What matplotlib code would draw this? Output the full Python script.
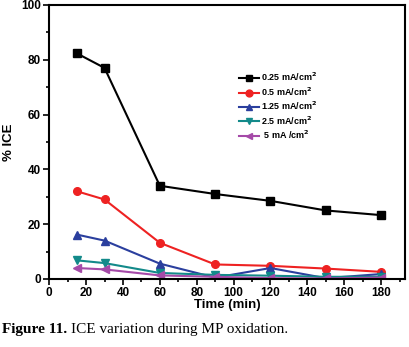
import matplotlib
matplotlib.use("Agg")
import matplotlib.pyplot as plt
from matplotlib.ticker import MultipleLocator

time_min = [15, 30, 60, 90, 120, 150, 180]
labels = ["0.25 mA/cm$^2$", "0.5 mA/cm$^2$", "1.25 mA/cm$^2$", "2.5 mA/cm$^2$", " 5 mA /cm$^2$"]
ice_025 = [82.3, 77.0, 34.0, 31.0, 28.5, 25.0, 23.3]
ice_05 = [32.0, 29.0, 13.2, 5.3, 4.8, 3.8, 2.6]
ice_125 = [16.2, 14.0, 5.6, 0.5, 4.0, 0.3, 1.8]
ice_25 = [6.8, 5.8, 2.2, 1.5, 1.2, 0.8, 0.8]
ice_5 = [4.0, 3.5, 1.3, 0.8, 0.3, 0.2, 0.5]

series = [ice_025, ice_05, ice_125, ice_25, ice_5]
colors = ["black", "#ee2222", "#2b3f9e", "#138a8a", "#a54aa8"]
markers = ["s", "o", "^", "v", "<"]

plt.rcParams["font.family"] = "Liberation Sans"
plt.rcParams["font.weight"] = "bold"
plt.rcParams["mathtext.default"] = "bf"

fig = plt.figure(figsize=(4.1, 3.47), dpi=100)
ax = fig.add_axes([0.12, 0.196, 0.868, 0.79])

for vals, col, mk, lab in zip(series, colors, markers, labels):
    ax.plot(time_min, vals, color=col, marker=mk, markersize=5.5, linewidth=1.5, label=lab)

ax.set_xlim(0, 193)
ax.set_ylim(0, 100)
ax.xaxis.set_major_locator(MultipleLocator(20))
ax.xaxis.set_minor_locator(MultipleLocator(10))
ax.yaxis.set_major_locator(MultipleLocator(20))
ax.yaxis.set_minor_locator(MultipleLocator(10))
ax.tick_params(which="both", direction="out", labelsize=8.5, width=1.2, pad=2)
ax.tick_params(which="major", length=4)
ax.tick_params(which="minor", length=2.5)
for sp in ax.spines.values():
    sp.set_linewidth(1.5)

ax.set_xlabel("Time (min)", fontsize=9.5, fontweight="bold", labelpad=0)
ax.set_ylabel("% ICE", fontsize=9.5, fontweight="bold", labelpad=4)

ax.legend(loc="upper left", bbox_to_anchor=(0.52, 0.775), frameon=False, fontsize=6.5,
          handlelength=2.2, handletextpad=0.3, labelspacing=0.22, borderpad=0, markerscale=0.9)

t1 = fig.text(0.005, 0.04, "Figure 11.", fontsize=11, fontweight="bold", family="Liberation Serif")
fig.canvas.draw()
bb = t1.get_window_extent()
x2 = (bb.x1 + 4) / fig.bbox.width
fig.text(x2, 0.04, "ICE variation during MP oxidation.", fontsize=11, fontweight="normal",
         family="Liberation Serif")

fig.savefig("out.png", dpi=100)
